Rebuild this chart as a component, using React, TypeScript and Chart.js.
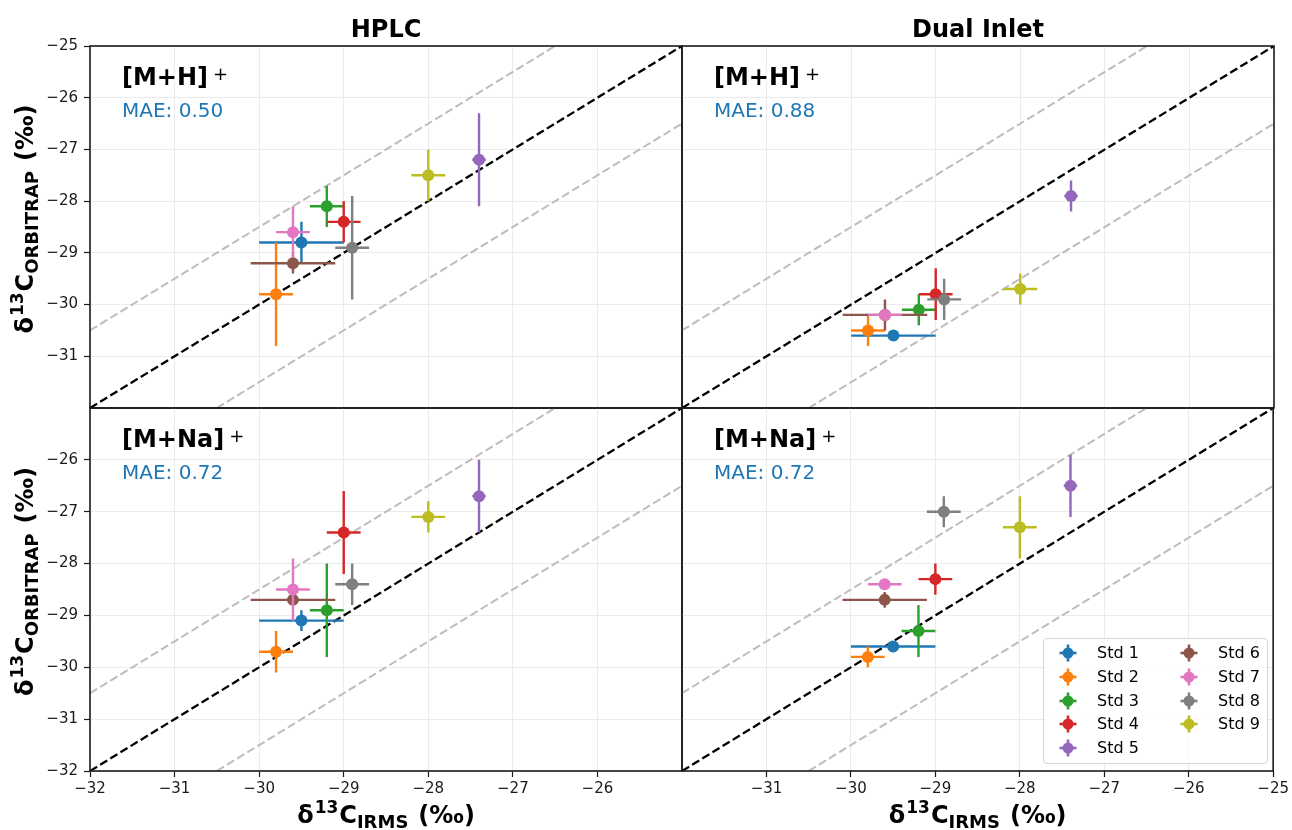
import React, { useEffect, useRef } from 'react';
import { Chart, registerables } from 'chart.js';

Chart.register(...registerables);

// ---------------- data ----------------
const STD_LABELS = ['Std 1', 'Std 2', 'Std 3', 'Std 4', 'Std 5', 'Std 6', 'Std 7', 'Std 8', 'Std 9'];
const STD_COLORS = ['#1f77b4', '#ff7f0e', '#2ca02c', '#d62728', '#9467bd', '#8c564b', '#e377c2', '#7f7f7f', '#bcbd22'];

// IRMS reference values (x) and their uncertainties
const IRMS_X = [-29.5, -29.8, -29.2, -29.0, -27.4, -29.6, -29.6, -28.9, -28.0];
const IRMS_XERR = [0.5, 0.2, 0.2, 0.2, 0.08, 0.5, 0.2, 0.2, 0.2];

// Orbitrap values (y) per panel
const HPLC_MH_Y = [-28.8, -29.8, -28.1, -28.4, -27.2, -29.2, -28.6, -28.9, -27.5];
const HPLC_MH_YERR = [0.4, 1.0, 0.4, 0.4, 0.9, 0.2, 0.5, 1.0, 0.5];
const DI_MH_Y = [-30.6, -30.5, -30.1, -29.8, -27.9, -30.2, -30.2, -29.9, -29.7];
const DI_MH_YERR = [0.04, 0.3, 0.3, 0.5, 0.3, 0.3, 0.1, 0.4, 0.3];
const HPLC_NA_Y = [-29.1, -29.7, -28.9, -27.4, -26.7, -28.7, -28.5, -28.4, -27.1];
const HPLC_NA_YERR = [0.2, 0.4, 0.9, 0.8, 0.7, 0.1, 0.6, 0.4, 0.3];
const DI_NA_Y = [-29.6, -29.8, -29.3, -28.3, -26.5, -28.7, -28.4, -27.0, -27.3];
const DI_NA_YERR = [0.04, 0.2, 0.5, 0.3, 0.6, 0.15, 0.05, 0.3, 0.6];

const MAE_LABELS = ['MAE: 0.50', 'MAE: 0.88', 'MAE: 0.72', 'MAE: 0.72'];
const ION_LABELS = ['[M+H]', '[M+H]', '[M+Na]', '[M+Na]'];
const COLUMN_TITLES = ['HPLC', 'Dual Inlet'];

// reference lines: 1:1 and ±1.5 ‰
const IDENTITY_X = [-32, -25];
const IDENTITY_Y = [-32, -25];
const UPPER_X = [-32, -26.5];
const UPPER_Y = [-30.5, -25];
const LOWER_X = [-30.5, -25];
const LOWER_Y = [-32, -26.5];

// tick labels
const TICKS_TOP_Y = [-25, -26, -27, -28, -29, -30, -31];
const TICKS_BOTTOM_Y = [-26, -27, -28, -29, -30, -31, -32];
const TICKS_INNER = [-26, -27, -28, -29, -30, -31];
const TICKS_LEFT_X = [-32, -31, -30, -29, -28, -27, -26];
const TICKS_RIGHT_X = [-31, -30, -29, -28, -27, -26, -25];

const AXIS_MIN = -32;
const AXIS_MAX = -25;

// ---------------- layout ----------------
const PAGE_W = 1292;
const PAGE_H = 830;
const FONT = "'DejaVu Sans', 'Liberation Sans', sans-serif";
const Y_AXIS_W = 60;
const X_AXIS_H = 30;

type Panel = {
  left: number; right: number; top: number; bottom: number;
  ys: number[]; yerr: number[];
  ion: string; mae: string;
  xTicks: number[]; xLabels: boolean;
  yTicks: number[]; yLabels: boolean;
  title?: string; yLabel?: boolean; xLabel?: boolean;
};

const PANELS: Panel[] = [
  { left: 90, right: 682, top: 46, bottom: 408, ys: HPLC_MH_Y, yerr: HPLC_MH_YERR, ion: ION_LABELS[0], mae: MAE_LABELS[0],
    xTicks: TICKS_INNER, xLabels: false, yTicks: TICKS_TOP_Y, yLabels: true, title: COLUMN_TITLES[0], yLabel: true },
  { left: 682, right: 1274, top: 46, bottom: 408, ys: DI_MH_Y, yerr: DI_MH_YERR, ion: ION_LABELS[1], mae: MAE_LABELS[1],
    xTicks: TICKS_INNER, xLabels: false, yTicks: TICKS_INNER, yLabels: false, title: COLUMN_TITLES[1] },
  { left: 90, right: 682, top: 408, bottom: 771, ys: HPLC_NA_Y, yerr: HPLC_NA_YERR, ion: ION_LABELS[2], mae: MAE_LABELS[2],
    xTicks: TICKS_LEFT_X, xLabels: true, yTicks: TICKS_BOTTOM_Y, yLabels: true, yLabel: true, xLabel: true },
  { left: 682, right: 1274, top: 408, bottom: 771, ys: DI_NA_Y, yerr: DI_NA_YERR, ion: ION_LABELS[3], mae: MAE_LABELS[3],
    xTicks: TICKS_RIGHT_X, xLabels: true, yTicks: TICKS_INNER, yLabels: false, xLabel: true },
];

const fmt = (v: number) => (v < 0 ? '\u2212' + Math.abs(v) : String(v));

type Part = { t: string; f: string; dy?: number; gap?: number };

function drawRich(ctx: CanvasRenderingContext2D, parts: Part[], cx: number, y: number) {
  let total = 0;
  const widths = parts.map((p) => {
    ctx.font = p.f;
    const w = ctx.measureText(p.t).width;
    total += w + (p.gap || 0);
    return w;
  });
  let x = cx - total / 2;
  parts.forEach((p, i) => {
    x += p.gap || 0;
    ctx.font = p.f;
    ctx.fillText(p.t, x, y + (p.dy || 0));
    x += widths[i];
  });
}

const labelParts = (sub: string): Part[] => [
  { t: 'δ', f: `bold 24px ${FONT}` },
  { t: '13', f: `bold 17px ${FONT}`, dy: -10, gap: 1 },
  { t: 'C', f: `bold 24px ${FONT}`, gap: 1 },
  { t: sub, f: `bold 18px ${FONT}`, dy: 5 },
  { t: '(‰)', f: `bold 24px ${FONT}`, gap: 10 },
];

const errorBarPlugin = {
  id: 'errorBars',
  beforeDatasetDraw(chart: any, args: any) {
    const ds = chart.data.datasets[args.index];
    if (!ds.errX) return;
    const xs = chart.scales.x;
    const ys = chart.scales.y;
    const ctx = chart.ctx as CanvasRenderingContext2D;
    ctx.save();
    ctx.strokeStyle = ds.borderColor;
    ctx.lineWidth = 2.4;
    ds.data.forEach((pt: any, j: number) => {
      const ex = ds.errX[j];
      const ey = ds.errY[j];
      const px = xs.getPixelForValue(pt.x);
      const py = ys.getPixelForValue(pt.y);
      ctx.beginPath();
      ctx.moveTo(xs.getPixelForValue(pt.x - ex), py);
      ctx.lineTo(xs.getPixelForValue(pt.x + ex), py);
      ctx.moveTo(px, ys.getPixelForValue(pt.y - ey));
      ctx.lineTo(px, ys.getPixelForValue(pt.y + ey));
      ctx.stroke();
    });
    ctx.restore();
  },
};

const decorPlugin = {
  id: 'panelDecor',
  afterDraw(chart: any, _args: any, opts: any) {
    const ctx = chart.ctx as CanvasRenderingContext2D;
    const a = chart.chartArea;
    ctx.save();
    ctx.strokeStyle = '#1a1a1a';
    ctx.lineWidth = 1.6;
    ctx.strokeRect(a.left, a.top, a.right - a.left, a.bottom - a.top);

    ctx.textAlign = 'left';
    ctx.textBaseline = 'alphabetic';
    ctx.fillStyle = '#000';
    ctx.font = `bold 24px ${FONT}`;
    ctx.fillText(opts.ion, a.left + 32, a.top + 39);
    const w = ctx.measureText(opts.ion).width;
    ctx.font = `18px ${FONT}`;
    ctx.fillText('+', a.left + 32 + w + 5, a.top + 34);

    ctx.font = `20px ${FONT}`;
    ctx.fillStyle = '#1f77b4';
    ctx.fillText(opts.mae, a.left + 32, a.top + 71);

    ctx.fillStyle = '#000';
    if (opts.title) {
      ctx.textAlign = 'center';
      ctx.font = `bold 24px ${FONT}`;
      ctx.fillText(opts.title, (a.left + a.right) / 2, 37);
      ctx.textAlign = 'left';
    }
    if (opts.yLabel) {
      ctx.save();
      ctx.translate(33, (a.top + a.bottom) / 2 - 8);
      ctx.rotate(-Math.PI / 2);
      drawRich(ctx, labelParts('ORBITRAP'), 0, 0);
      ctx.restore();
    }
    if (opts.xLabel) {
      drawRich(ctx, labelParts('IRMS'), (a.left + a.right) / 2, 823);
    }
    ctx.restore();
  },
};

function buildConfig(p: Panel): any {
  const line = (xs: number[], ys: number[], color: string, width: number, order: number) => ({
    label: '',
    data: xs.map((x, i) => ({ x, y: ys[i] })),
    showLine: true,
    borderColor: color,
    borderWidth: width,
    borderDash: [8.3, 3.6],
    pointRadius: 0,
    pointHoverRadius: 0,
    fill: false,
    order,
  });
  const datasets: any[] = [
    line(UPPER_X, UPPER_Y, '#bdbdbd', 2, 102),
    line(LOWER_X, LOWER_Y, '#bdbdbd', 2, 101),
    line(IDENTITY_X, IDENTITY_Y, '#000000', 2.3, 100),
  ];
  STD_LABELS.forEach((label, i) => {
    datasets.push({
      label,
      data: [{ x: IRMS_X[i], y: p.ys[i] }],
      errX: [IRMS_XERR[i]],
      errY: [p.yerr[i]],
      backgroundColor: STD_COLORS[i],
      borderColor: STD_COLORS[i],
      pointRadius: 6,
      pointHoverRadius: 6,
      pointBorderWidth: 0,
      order: -i,
    });
  });

  const tickFont = { family: FONT, size: 15 };
  return {
    type: 'scatter',
    data: { datasets },
    options: {
      animation: false,
      responsive: false,
      devicePixelRatio: 1,
      events: [],
      layout: {
        padding: {
          left: p.left - Y_AXIS_W,
          right: PAGE_W - p.right,
          top: p.top,
          bottom: PAGE_H - p.bottom - X_AXIS_H,
        },
      },
      plugins: {
        legend: { display: false },
        tooltip: { enabled: false },
        panelDecor: { ion: p.ion, mae: p.mae, title: p.title, yLabel: p.yLabel, xLabel: p.xLabel },
      },
      scales: {
        x: {
          type: 'linear',
          min: AXIS_MIN,
          max: AXIS_MAX,
          afterBuildTicks: (s: any) => { s.ticks = p.xTicks.map((v) => ({ value: v })); },
          afterFit: (s: any) => { s.height = X_AXIS_H; },
          ticks: {
            display: p.xLabels,
            callback: (v: number) => fmt(v),
            font: tickFont,
            color: '#1a1a1a',
            padding: 3,
            maxRotation: 0,
            autoSkip: false,
          },
          grid: {
            color: '#ebebeb',
            lineWidth: 1,
            drawTicks: p.xLabels,
            tickLength: 6,
            tickColor: '#1a1a1a',
            tickWidth: 1.2,
          },
          border: { display: false },
        },
        y: {
          type: 'linear',
          min: AXIS_MIN,
          max: AXIS_MAX,
          afterBuildTicks: (s: any) => { s.ticks = p.yTicks.map((v) => ({ value: v })); },
          afterFit: (s: any) => { s.width = Y_AXIS_W; },
          ticks: {
            display: p.yLabels,
            callback: (v: number) => fmt(v),
            font: tickFont,
            color: '#1a1a1a',
            padding: 6,
            autoSkip: false,
          },
          grid: {
            color: '#ebebeb',
            lineWidth: 1,
            drawTicks: p.yLabels,
            tickLength: 6,
            tickColor: '#1a1a1a',
            tickWidth: 1.2,
          },
          border: { display: false },
        },
      },
    },
    plugins: [errorBarPlugin, decorPlugin],
  };
}

function LegendMarker({ color }: { color: string }) {
  return (
    <svg width={20} height={20} viewBox="0 0 20 20" style={{ position: 'absolute', left: -10, top: -10 }}>
      <line x1={1.5} y1={10} x2={18.5} y2={10} stroke={color} strokeWidth={2.6} />
      <line x1={10} y1={1.5} x2={10} y2={18.5} stroke={color} strokeWidth={2.6} />
      <circle cx={10} cy={10} r={5.5} fill={color} />
    </svg>
  );
}

const LEGEND_BOX = { left: 1043, top: 638, width: 225, height: 126 };

function Legend() {
  return (
    <div
      style={{
        position: 'absolute',
        left: LEGEND_BOX.left,
        top: LEGEND_BOX.top,
        width: LEGEND_BOX.width,
        height: LEGEND_BOX.height,
        boxSizing: 'border-box',
        border: '1px solid #d4d4d4',
        borderRadius: 4,
        background: 'rgba(255,255,255,0.8)',
        fontFamily: FONT,
      }}
    >
      {STD_LABELS.map((label, i) => {
        const col = i < 5 ? 0 : 1;
        const row = i < 5 ? i : i - 5;
        const cy = 14 + row * 23.8;
        const mx = col === 0 ? 24 : 145;
        return (
          <React.Fragment key={label}>
            <div style={{ position: 'absolute', left: mx, top: cy, width: 0, height: 0 }}>
              <LegendMarker color={STD_COLORS[i]} />
            </div>
            <span
              style={{
                position: 'absolute',
                left: mx + 29,
                top: cy - 10,
                lineHeight: '20px',
                fontSize: 16,
                color: '#000',
                whiteSpace: 'nowrap',
              }}
            >
              {label}
            </span>
          </React.Fragment>
        );
      })}
    </div>
  );
}

export default function App() {
  const refs = useRef<(HTMLCanvasElement | null)[]>([]);

  useEffect(() => {
    const charts = PANELS.map((p, i) => new Chart(refs.current[i] as HTMLCanvasElement, buildConfig(p)));
    return () => charts.forEach((c) => c.destroy());
  }, []);

  return (
    <div
      style={{
        position: 'absolute',
        left: 0,
        top: 0,
        width: PAGE_W,
        height: PAGE_H,
        overflow: 'hidden',
        background: '#ffffff',
      }}
    >
      {PANELS.map((_, i) => (
        <canvas
          key={i}
          ref={(el) => { refs.current[i] = el; }}
          width={PAGE_W}
          height={PAGE_H}
          style={{ position: 'absolute', left: 0, top: 0, width: PAGE_W, height: PAGE_H }}
        />
      ))}
      <Legend />
    </div>
  );
}
